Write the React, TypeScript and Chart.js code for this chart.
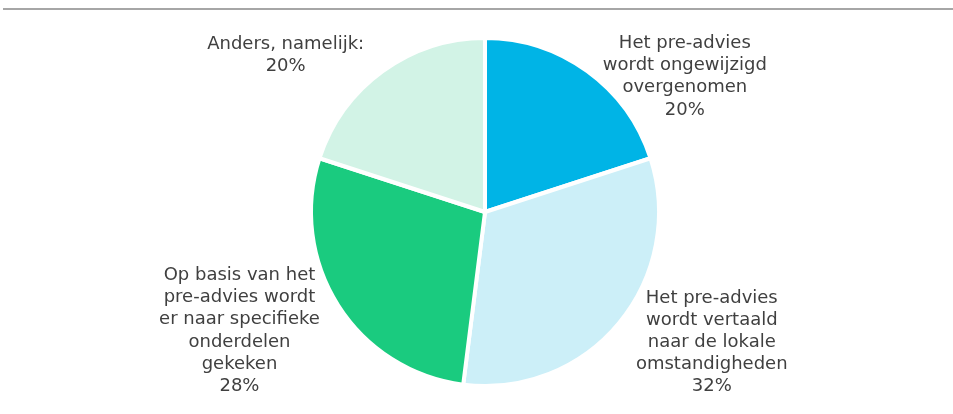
import React, { useEffect, useRef } from "react";
import { Chart, registerables } from "chart.js";

Chart.register(...registerables);

const categories: string[][] = [
  ["Het pre-advies", "wordt ongewijzigd", "overgenomen"],
  ["Het pre-advies", "wordt vertaald", "naar de lokale", "omstandigheden"],
  ["Op basis van het", "pre-advies wordt", "er naar specifieke", "onderdelen", "gekeken"],
  ["Anders, namelijk:"],
];
const values: number[] = [20, 32, 28, 20];
const colors: string[] = ["#00B4E6", "#CCEFF8", "#1ACB7F", "#D2F3E6"];

// per-label nudges (px) relative to the default outside anchor
const labelNudges: [number, number][] = [
  [5, 20],
  [3, 8],
  [-3, 16],
  [-8, -1],
];

const outsideLabels = {
  id: "outsideLabels",
  afterDatasetsDraw(chart: any) {
    const ctx = chart.ctx;
    const meta = chart.getDatasetMeta(0);
    const total = values.reduce((a, b) => a + b, 0);
    ctx.save();
    ctx.font = '18px "DejaVu Sans", Verdana, sans-serif';
    ctx.fillStyle = "#404040";
    ctx.textAlign = "center";
    ctx.textBaseline = "middle";
    const lh = 22.2;
    meta.data.forEach((arc: any, i: number) => {
      const { x, y, startAngle, endAngle, outerRadius } = arc.getProps(
        ["x", "y", "startAngle", "endAngle", "outerRadius"],
        true
      );
      const mid = (startAngle + endAngle) / 2;
      const R = outerRadius + 18;
      const ax = x + Math.cos(mid) * R;
      const ay = y + Math.sin(mid) * R;
      const pct = Math.round((values[i] / total) * 100) + "%";
      const lines = [...categories[i], pct];
      const w = Math.max(...lines.map((l) => ctx.measureText(l).width));
      const [nx, ny] = labelNudges[i];
      const right = Math.cos(mid) >= 0;
      const cx = (right ? ax + w / 2 : ax - w / 2) + nx;
      const cy = ay + ny;
      const top = cy - ((lines.length - 1) * lh) / 2;
      lines.forEach((l, k) => ctx.fillText(l, cx, top + k * lh));
    });
    ctx.restore();
  },
};

const topRule = {
  id: "topRule",
  beforeDraw(chart: any) {
    const ctx = chart.ctx;
    ctx.save();
    ctx.fillStyle = "#A6A6A6";
    ctx.fillRect(3, 8, chart.width - 3, 2);
    ctx.restore();
  },
};

export default function App() {
  const ref = useRef<HTMLCanvasElement>(null);
  useEffect(() => {
    document.body.style.margin = "0";
    const chart = new Chart(ref.current!, {
      type: "pie",
      data: {
        labels: categories.map((c) => c.join(" ")),
        datasets: [
          {
            data: values,
            backgroundColor: colors,
            borderColor: "#FFFFFF",
            borderWidth: 4,
          },
        ],
      },
      options: {
        responsive: false,
        animation: false,
        radius: 174,
        layout: { padding: { left: 17, right: 0, top: 10, bottom: 0 } },
        plugins: {
          legend: { display: false },
          tooltip: { enabled: false },
        },
      } as any,
      plugins: [topRule, outsideLabels],
    });
    return () => chart.destroy();
  }, []);
  return (
    <canvas
      ref={ref}
      width={953}
      height={414}
      style={{ display: "block", width: 953, height: 414 }}
    />
  );
}
